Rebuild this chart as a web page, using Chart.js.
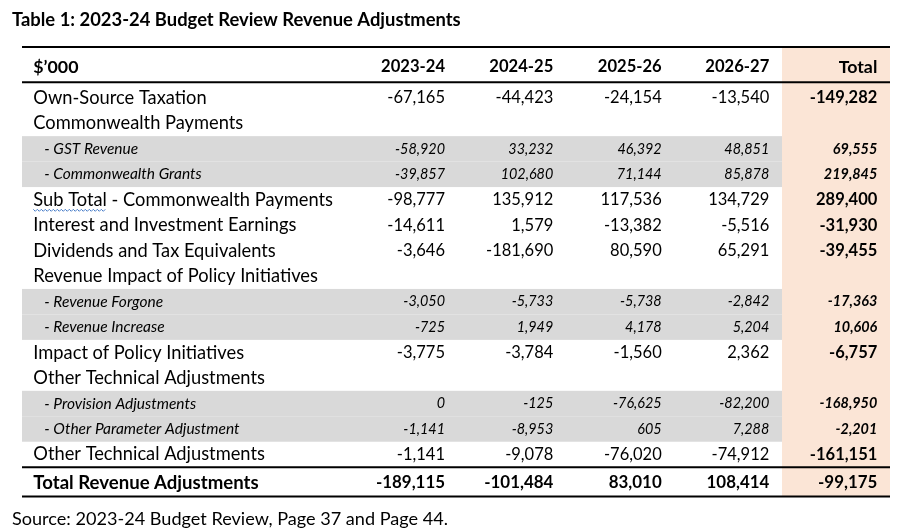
<!DOCTYPE html>
<html><head><meta charset="utf-8">
<script src="https://cdn.jsdelivr.net/npm/chart.js@4.4.1/dist/chart.umd.min.js"></script>
<style>html,body{margin:0;padding:0;background:#fff;}#wrap{width:921px;height:528px;position:relative;}</style>
</head><body><div id="wrap"><canvas id="c"></canvas></div>
<script>
// ---------- DATA ----------
const tableTitle = 'Table 1: 2023-24 Budget Review Revenue Adjustments';
const sourceNote = 'Source: 2023-24 Budget Review, Page 37 and Page 44.';
const unitLabel = '$’000';
const columns = ['2023-24', '2024-25', '2025-26', '2026-27', 'Total'];
const rowLabels = [
  'Own-Source Taxation',
  'Commonwealth Payments',
  '- GST Revenue',
  '- Commonwealth Grants',
  'Sub Total - Commonwealth Payments',
  'Interest and Investment Earnings',
  'Dividends and Tax Equivalents',
  'Revenue Impact of Policy Initiatives',
  '- Revenue Forgone',
  '- Revenue Increase',
  'Impact of Policy Initiatives',
  'Other Technical Adjustments',
  '- Provision Adjustments',
  '- Other Parameter Adjustment',
  'Other Technical Adjustments',
  'Total Revenue Adjustments'
];
const values2023_24 = [-67165, null, -58920, -39857, -98777, -14611, -3646, null, -3050, -725, -3775, null, 0, -1141, -1141, -189115];
const values2024_25 = [-44423, null, 33232, 102680, 135912, 1579, -181690, null, -5733, 1949, -3784, null, -125, -8953, -9078, -101484];
const values2025_26 = [-24154, null, 46392, 71144, 117536, -13382, 80590, null, -5738, 4178, -1560, null, -76625, 605, -76020, 83010];
const values2026_27 = [-13540, null, 48851, 85878, 134729, -5516, 65291, null, -2842, 5204, 2362, null, -82200, 7288, -74912, 108414];
const valuesTotal   = [-149282, null, 69555, 219845, 289400, -31930, -39455, null, -17363, 10606, -6757, null, -168950, -2201, -161151, -99175];

// ---------- LAYOUT / STYLE ----------
const rowKinds = ['main','main','sub','sub','main','main','main','main','sub','sub','main','main','sub','sub','main','total'];
const valueSeries = [values2023_24, values2024_25, values2025_26, values2026_27, valuesTotal];
const FONT = 'Lato';
// [label size, number size]
const SIZES = { main: [18.3, 16.5], sub: [15.5, 14.4], total: [18.6, 16.9], header: [17.8, 16.6] };
const SIZE_TITLE = 18.4, SIZE_SOURCE = 18.1;
const LAYOUT = {
  tableW: 868, totalColStart: 760,
  colRight: [423, 531.3, 639.7, 747.3, 855.3],
  labelX: 11.3, subLabelX: 22.3,
  headerY: 0.785, rules: [0, 1.386, 16.5, 17.65], yMax: 17.67, totalRowY: 17.12
};
const rowCentre = i => rowKinds[i] === 'total' ? LAYOUT.totalRowY : i + 2;
const fmt = v => v.toLocaleString('en-US');

function fontFor(kind, bold, isNumber) {
  const size = SIZES[kind][isNumber ? 1 : 0];
  const b = bold || kind === 'total' || kind === 'header';
  return (kind === 'sub' ? 'italic ' : '') + (b ? 'bold ' : '') + size + 'px ' + FONT;
}

const datasets = [];
datasets.push({
  role: 'label', align: 'left',
  data: rowLabels.map((t, i) => ({ x: rowKinds[i] === 'sub' ? LAYOUT.subLabelX : LAYOUT.labelX, y: rowCentre(i), t, kind: rowKinds[i], num: false }))
});
datasets.push({
  role: 'header', align: 'left',
  data: [{ x: LAYOUT.labelX, y: LAYOUT.headerY, t: unitLabel, kind: 'header', num: false }]
});
datasets.push({
  role: 'header', align: 'right',
  data: columns.map((c, k) => ({ x: LAYOUT.colRight[k], y: LAYOUT.headerY, t: c, kind: 'header', num: /\d/.test(c) }))
});
valueSeries.forEach((vals, k) => {
  datasets.push({
    role: k === columns.length - 1 ? 'totalcol' : 'value', align: 'right',
    data: vals.map((v, i) => v === null ? null : ({ x: LAYOUT.colRight[k], y: rowCentre(i), t: fmt(v), kind: rowKinds[i], num: true })).filter(p => p)
  });
});
datasets.forEach(d => { d.pointRadius = 0; d.pointHoverRadius = 0; d.showLine = false; });

const tablePlugin = {
  id: 'tablePlugin',
  beforeDatasetsDraw(chart) {
    const { ctx, scales: { x, y } } = chart;
    ctx.save();
    ctx.fillStyle = '#d9d9d9';
    rowKinds.forEach((k, i) => {
      if (k !== 'sub') return;
      const y0 = y.getPixelForValue(i + 1.5), y1 = y.getPixelForValue(i + 2.5);
      const x0 = x.getPixelForValue(0), x1 = x.getPixelForValue(LAYOUT.totalColStart);
      ctx.fillRect(x0, y0, x1 - x0, y1 - y0);
    });
    ctx.fillStyle = '#fbe5d6';
    {
      const x0 = x.getPixelForValue(LAYOUT.totalColStart), x1 = x.getPixelForValue(LAYOUT.tableW);
      const y0 = y.getPixelForValue(LAYOUT.rules[0]), y1 = y.getPixelForValue(LAYOUT.rules[3]);
      ctx.fillRect(x0, y0, x1 - x0, y1 - y0);
    }
    ctx.strokeStyle = '#000';
    ctx.lineWidth = 2;
    LAYOUT.rules.forEach(r => {
      const py = y.getPixelForValue(r);
      ctx.beginPath();
      ctx.moveTo(x.getPixelForValue(0), py);
      ctx.lineTo(x.getPixelForValue(LAYOUT.tableW), py);
      ctx.stroke();
    });
    ctx.restore();
  },
  afterDatasetsDraw(chart) {
    const { ctx } = chart;
    ctx.save();
    ctx.fillStyle = '#000';
    ctx.textBaseline = 'middle';
    chart.data.datasets.forEach((ds, d) => {
      const meta = chart.getDatasetMeta(d);
      meta.data.forEach((el, j) => {
        const raw = ds.data[j];
        ctx.font = fontFor(raw.kind, ds.role === 'totalcol' || ds.role === 'header', raw.num);
        ctx.textAlign = ds.align;
        ctx.fillText(raw.t, el.x, el.y);
        if (ds.role === 'label' && raw.t.startsWith('Sub Total')) {
          const w = ctx.measureText('Sub Total').width;
          ctx.save();
          ctx.strokeStyle = '#4a7ec8';
          ctx.lineWidth = 1;
          ctx.beginPath();
          const yy = el.y + 10.5;
          for (let xx = 0; xx <= w; xx += 2) {
            const py = yy + ((xx / 2) % 2 === 0 ? -1 : 1);
            if (xx === 0) ctx.moveTo(el.x + xx, py); else ctx.lineTo(el.x + xx, py);
          }
          ctx.stroke();
          ctx.restore();
        }
      });
    });
    ctx.restore();
  }
};

function build() {
  new Chart(document.getElementById('c'), {
    type: 'scatter',
    data: { datasets },
    options: {
      responsive: true, maintainAspectRatio: false, animation: false, events: [],
      layout: { padding: { left: 12, right: 31, top: 0, bottom: 0 } },
      scales: {
        x: { type: 'linear', min: -10, max: LAYOUT.tableW, display: false },
        y: { type: 'linear', min: 0, max: LAYOUT.yMax, reverse: true, display: false }
      },
      plugins: {
        legend: { display: false }, tooltip: { enabled: false },
        title: { display: true, text: tableTitle, align: 'start', color: '#000',
          font: { family: FONT, size: SIZE_TITLE, weight: 'bold', lineHeight: 1.2 }, padding: { top: 8.96, bottom: 15.96 } },
        subtitle: { display: true, text: sourceNote, position: 'bottom', align: 'start', color: '#000',
          font: { family: FONT, size: SIZE_SOURCE, weight: 'normal', lineHeight: 1.0 }, padding: { top: 12.9, bottom: 0 } }
      }
    },
    plugins: [tablePlugin]
  });
}
const fontLoads = ['16px Lato', 'bold 16px Lato', 'italic 13px Lato', 'italic bold 13px Lato'].map(f => document.fonts.load(f));
Promise.all(fontLoads).then(build, build);
</script></body></html>
